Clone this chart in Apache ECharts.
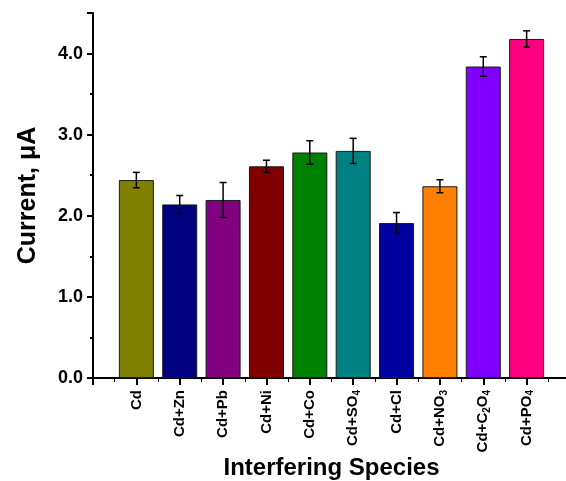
<!DOCTYPE html>
<html><head><meta charset="utf-8">
<script src="https://cdn.jsdelivr.net/npm/echarts@6/dist/echarts.min.js"></script>
<style>html,body{margin:0;padding:0;background:#fff}#c{width:566px;height:481px}</style>
</head><body><div id="c"></div>
<script>
var categories = ['Cd','Cd+Zn','Cd+Pb','Cd+Ni','Cd+Co','Cd+SO{s|4}','Cd+Cl','Cd+NO{s|3}','Cd+C{s|2}O{s|4}','Cd+PO{s|4}'];
var currents = [2.44, 2.14, 2.195, 2.61, 2.78, 2.80, 1.91, 2.364, 3.84, 4.18];
var errors = [0.095, 0.11, 0.215, 0.075, 0.145, 0.155, 0.13, 0.08, 0.12, 0.10];
var colors = ['#808000','#000080','#800080','#800000','#008000','#008080','#0000A0','#FF8000','#8000FF','#FF0080'];
var yTicks = ['0.0','1.0','2.0','3.0','4.0'];

var F = '"Liberation Sans", Arial, sans-serif';
var chart = echarts.init(document.getElementById('c'), null, {renderer:'canvas'});
var barData = currents.map(function(v,i){
  return {value:[i+1, v], itemStyle:{color:colors[i], borderColor:'#1a1a1a', borderWidth:1}};
});
var errData = currents.map(function(v,i){ return [i+1, v-errors[i], v+errors[i]]; });

chart.setOption({
  animation:false,
  grid:{left:93, top:13, right:-4, bottom:103, containLabel:false, outerBoundsMode:'none'},
  xAxis:[{
    type:'value', min:0, max:11, interval:1, position:'bottom',
    splitLine:{show:false},
    axisLine:{show:true, onZero:false, lineStyle:{color:'#000', width:2}},
    axisTick:{show:true, inside:false, length:7, lineStyle:{color:'#000', width:2}},
    minorTick:{show:true, splitNumber:2, length:4, lineStyle:{color:'#000', width:1}},
    axisLabel:{
      rotate:90, margin:12, fontFamily:F, fontWeight:'bold', fontSize:15, color:'#000',
      formatter:function(v){ var i=Math.round(v)-1; return (i>=0 && i<categories.length)?categories[i]:''; },
      rich:{s:{fontSize:10, fontWeight:'bold', fontFamily:F, color:'#000', verticalAlign:'bottom', padding:[8,0,0,0]}}
    },
    name:'Interfering Species', nameLocation:'middle', nameGap:78, nameMoveOverlap:false,
    nameTextStyle:{fontFamily:F, fontWeight:'bold', fontSize:24, color:'#000'}
  },{
    type:'value', min:0, max:11, interval:0.5, position:'top',
    splitLine:{show:false},
    axisLine:{show:false},
    axisTick:{show:true, inside:true, length:3, lineStyle:{color:'#000', width:1}},
    axisLabel:{show:false}
  }],
  yAxis:{
    type:'value', min:0, max:4.5, interval:1,
    splitLine:{show:false},
    axisLine:{show:true, lineStyle:{color:'#000', width:2}},
    axisTick:{show:true, length:6, lineStyle:{color:'#000', width:2}},
    minorTick:{show:true, splitNumber:2, length:3, lineStyle:{color:'#000', width:2}},
    axisLabel:{margin:10, fontFamily:F, fontWeight:'bold', fontSize:18, color:'#000',
      formatter:function(v){ var i=Math.round(v); return (Math.abs(v-i)<1e-6 && i<yTicks.length)?yTicks[i]:''; }},
    name:'Current, \u03BCA', nameLocation:'middle', nameGap:52, nameMoveOverlap:false,
    nameTextStyle:{fontFamily:F, fontWeight:'bold', fontSize:25, color:'#000'}
  },
  series:[{
    type:'bar', xAxisIndex:0, barWidth:35, data:barData
  },{
    type:'custom', xAxisIndex:0, data:errData, z:10,
    renderItem:function(params, api){
      var x = api.value(0);
      var lo = api.coord([x, api.value(1)]);
      var hi = api.coord([x, api.value(2)]);
      var w = 3.5;
      var st = {stroke:'#000', lineWidth:1.5};
      return {type:'group', children:[
        {type:'line', shape:{x1:lo[0], y1:lo[1], x2:hi[0], y2:hi[1]}, style:st},
        {type:'line', shape:{x1:lo[0]-w, y1:lo[1], x2:lo[0]+w, y2:lo[1]}, style:st},
        {type:'line', shape:{x1:hi[0]-w, y1:hi[1], x2:hi[0]+w, y2:hi[1]}, style:st}
      ]};
    }
  }]
});
</script></body></html>
